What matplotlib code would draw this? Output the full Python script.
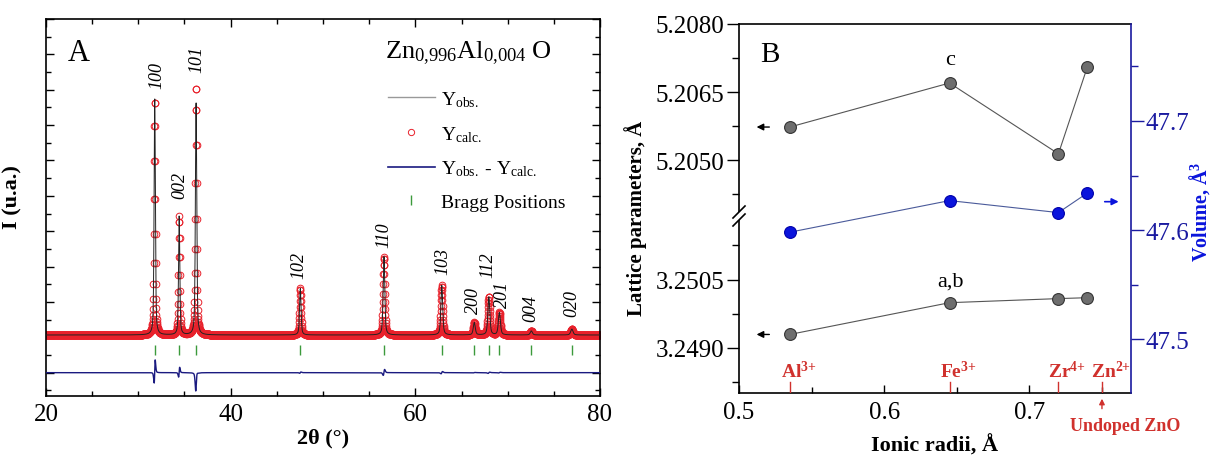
import numpy as np
import matplotlib
matplotlib.use('Agg')
import matplotlib.pyplot as plt
from matplotlib.ticker import MultipleLocator, NullFormatter, FormatStrFormatter
from matplotlib.lines import Line2D
from matplotlib.patches import Rectangle

plt.rcParams['font.family'] = ['Liberation Serif', 'DejaVu Serif']
plt.rcParams['mathtext.fontset'] = 'custom'
plt.rcParams['mathtext.rm'] = 'Liberation Serif'
plt.rcParams['mathtext.it'] = 'Liberation Serif:italic'
plt.rcParams['mathtext.bf'] = 'Liberation Serif:bold'

# ---------------- Rietveld refinement, Zn0.996Al0.004O ----------------
hkl = ['100', '002', '101', '102', '110', '103', '200', '112', '201', '004', '020']
bragg_pos = [31.77, 34.42, 36.25, 47.54, 56.60, 62.86, 66.38, 67.96, 69.10, 72.56, 76.95]
obs_pos = [31.776, 34.425, 36.253, 47.542, 56.606, 62.864, 66.383, 67.963, 69.103, 72.562, 76.952]
obs_top = [7750, 4430, 7660, 2380, 3290, 2470, 1415, 2140, 1700, 1180, 1230]
calc_top = [7700, 4410, 8100, 2380, 3280, 2470, 1415, 2145, 1700, 1180, 1230]
fwhm = [0.16, 0.16, 0.17, 0.19, 0.21, 0.23, 0.25, 0.25, 0.26, 0.27, 0.30]
background = 1065
bragg_level = 640
label_x = [32.0, 34.5, 36.3, 47.4, 56.6, 63.0, 66.3, 67.9, 69.4, 72.5, 76.9]
label_y = [8440, 5330, 8870, 3065, 3915, 3160, 2060, 3070, 2240, 1840, 1980]

# ---------------- lattice parameters vs dopant ionic radius ----------------
radii = [0.535, 0.645, 0.72, 0.74]
c_param = [5.20573, 5.20670, 5.20514, 5.20706]
a_param = [3.24929, 3.24999, 3.25008, 3.25010]
volume = [47.598, 47.627, 47.616, 47.634]
ion_x = [0.535, 0.645, 0.72, 0.75]
ion_labels = ['Al$^{\\mathbf{3{+}}}$', 'Fe$^{\\mathbf{3{+}}}$',
              'Zr$^{\\mathbf{4{+}}}$', 'Zn$^{\\mathbf{2{+}}}$']


def pseudo_voigt(x, x0, h, w, eta=0.5):
    g = np.exp(-4 * np.log(2) * ((x - x0) / w) ** 2)
    l = 1.0 / (1 + 4 * ((x - x0) / w) ** 2)
    return h * (eta * l + (1 - eta) * g)


tt = np.arange(20, 80.0001, 0.02)
y_obs = np.full_like(tt, background, dtype=float)
y_calc = np.full_like(tt, background, dtype=float)
for p_o, p_c, h_o, h_c, w in zip(obs_pos, bragg_pos, obs_top, calc_top, fwhm):
    y_obs += pseudo_voigt(tt, p_o, h_o - background, w)
    y_calc += pseudo_voigt(tt, p_c, h_c - background, w)

red = '#e8212b'
navy = '#1a1a80'
green = '#3c9a3c'

fig = plt.figure(figsize=(12.1, 4.64), dpi=100)


def fx(px):
    return px / 1210.0


def fy(py):
    return (464.0 - py) / 464.0


# ---------------- panel A ----------------
axA = fig.add_axes([fx(46), fy(397), fx(554), 377 / 464.0])
axA.plot(tt, y_calc, 'o', mfc='none', mec=red, ms=4.8, mew=0.7, zorder=2)
axA.plot(tt, y_obs, '-', color='#222222', lw=0.7, zorder=3)
axA.plot(tt, y_obs - y_calc, '-', color=navy, lw=1.0, zorder=3)
axA.plot(bragg_pos, [bragg_level] * len(bragg_pos), '|', color=green, ms=7, mew=1.0)
for lx, ly, lab in zip(label_x, label_y, hkl):
    axA.text(lx, ly, lab, rotation=90, ha='center', va='center', style='italic', fontsize=13)

axA.set_xlim(20, 80)
axA.set_ylim(-660, 10000)
axA.xaxis.set_major_locator(MultipleLocator(20))
axA.xaxis.set_minor_locator(MultipleLocator(5))
axA.yaxis.set_major_locator(MultipleLocator(1000))
axA.yaxis.set_minor_locator(MultipleLocator(500))
axA.yaxis.set_major_formatter(NullFormatter())
axA.tick_params(which='both', direction='in', top=True, right=True, labelsize=18)
axA.tick_params(which='major', length=6, width=1)
axA.tick_params(which='minor', length=3.5, width=1)
axA.tick_params(axis='x', pad=5)
for s in axA.spines.values():
    s.set_linewidth(1.2)
axA.set_xlabel('2θ (°)', fontsize=16, fontweight='bold', labelpad=2)
axA.set_ylabel('I (u.a.)', fontsize=16, fontweight='bold')
axA.yaxis.set_label_coords(-0.042, 0.53)
axA.text(0.06, 0.912, 'A', transform=axA.transAxes, fontsize=22, ha='center', va='center')
axA.text(0.612, 0.912, 'Zn$_{0{,}996}$Al$_{0{,}004}$ O', transform=axA.transAxes,
         fontsize=19, ha='left', va='center')

handles = [
    Line2D([], [], color='#999999', lw=1.0),
    Line2D([], [], ls='none', marker='o', mfc='none', mec=red, ms=4.5, mew=0.7),
    Line2D([], [], color=navy, lw=1.2),
    Line2D([], [], ls='none', marker='|', color=green, ms=7, mew=1.0),
]
labels = ['Y$_{\\mathrm{obs.}}$', 'Y$_{\\mathrm{calc.}}$',
          'Y$_{\\mathrm{obs.}}$ - Y$_{\\mathrm{calc.}}$', 'Bragg Positions']
axA.legend(handles, labels, loc='upper left', bbox_to_anchor=(0.600, 0.84), frameon=False,
           fontsize=14, handlelength=2.4, handletextpad=0.3, labelspacing=0.78, borderpad=0)

# ---------------- panel B ----------------
L, R = 739, 1131
ax_up = fig.add_axes([fx(L), fy(217), fx(R - L), 192 / 464.0])
ax_lo = fig.add_axes([fx(L), fy(394), fx(R - L), 177 / 464.0], sharex=ax_up)
ax_v = fig.add_axes([fx(L), fy(394), fx(R - L), 369 / 464.0], sharex=ax_lo)
ax_v.patch.set_visible(False)

gray_kw = dict(color='#555555', lw=0.8, marker='o', ms=8.5, mfc='#6e6e6e', mec='#333333', mew=0.8)
ax_up.plot(radii, c_param, **gray_kw)
ax_lo.plot(radii, a_param, **gray_kw)
ax_v.plot(radii, volume, color='#4a5a9a', lw=0.8, marker='o', ms=8.5, mfc='#0a14dc', mec='#0000aa', mew=0.8)

ax_up.set_ylim(5.20377, 5.2080)
ax_lo.set_ylim(3.2480, 3.2519)
ax_v.set_ylim(47.4506, 47.7889)
ax_lo.set_xlim(0.5, 0.77)

for ax in (ax_up, ax_lo):
    ax.yaxis.set_major_locator(MultipleLocator(0.0015))
    ax.yaxis.set_minor_locator(MultipleLocator(0.00075))
    ax.yaxis.set_major_formatter(FormatStrFormatter('%.4f'))
    ax.tick_params(axis='y', which='both', direction='out', labelsize=18, width=1, pad=1.5)
    ax.tick_params(axis='y', which='major', length=9)
    ax.tick_params(axis='y', which='minor', length=5)
    ax.spines['right'].set_visible(False)
    for s in ax.spines.values():
        s.set_linewidth(1.2)
ax_up.spines['bottom'].set_visible(False)
ax_lo.spines['top'].set_visible(False)
ax_up.tick_params(axis='x', which='both', bottom=False, top=False, labelbottom=False)

ax_lo.xaxis.set_major_locator(MultipleLocator(0.1))
ax_lo.xaxis.set_minor_locator(MultipleLocator(0.05))
ax_lo.xaxis.set_major_formatter(FormatStrFormatter('%.1f'))
ax_lo.tick_params(axis='x', which='both', direction='in', labelsize=18, width=1, pad=6)
ax_lo.tick_params(axis='x', which='major', length=6)
ax_lo.tick_params(axis='x', which='minor', length=4)
ax_lo.set_xlabel('Ionic radii, Å', fontsize=16, fontweight='bold', labelpad=8)

blue_axis = '#1a1aa0'
for side in ('left', 'top', 'bottom'):
    ax_v.spines[side].set_visible(False)
ax_v.spines['right'].set_color(blue_axis)
ax_v.spines['right'].set_linewidth(1.2)
ax_v.yaxis.tick_right()
ax_v.yaxis.set_major_locator(MultipleLocator(0.1))
ax_v.yaxis.set_minor_locator(MultipleLocator(0.05))
ax_v.yaxis.set_major_formatter(FormatStrFormatter('%.1f'))
ax_v.tick_params(axis='y', which='both', direction='out', colors=blue_axis, labelsize=18,
                 width=1, pad=1.5)
ax_v.tick_params(axis='y', which='major', length=9)
ax_v.tick_params(axis='y', which='minor', length=5)
ax_v.tick_params(axis='x', which='both', bottom=False, top=False, labelbottom=False)

# direction arrows
arrow_k = dict(arrowstyle='-|>', color='black', lw=1.0, mutation_scale=10)
ax_up.annotate('', xy=(0.5102, c_param[0]), xytext=(0.5228, c_param[0]), arrowprops=arrow_k)
ax_lo.annotate('', xy=(0.5102, a_param[0]), xytext=(0.5228, a_param[0]), arrowprops=arrow_k)
ax_v.annotate('', xy=(0.7634, 47.626), xytext=(0.7500, 47.626),
              arrowprops=dict(arrowstyle='-|>', color='#0a14dc', lw=1.2, mutation_scale=10))

ax_up.text(0.6455, 5.20721, 'c', fontsize=16, ha='center', va='center')
ax_lo.text(0.6455, 3.25046, 'a,b', fontsize=16, ha='center', va='center')
ax_up.text(0.521, 5.20734, 'B', fontsize=21, ha='center', va='center')

# dopant ion markers along the radius axis
ion_red = '#d0312d'
xtr = ax_v.get_xaxis_transform()
for xi, lab in zip(ion_x, ion_labels):
    ax_v.plot([xi, xi], [0, 0.03], color=ion_red, lw=1.0, transform=xtr)
    ax_v.text(xi + 0.006, 0.062, lab, transform=xtr, color=ion_red, fontsize=14,
              fontweight='bold', ha='center', va='center')
ax_v.annotate('', xy=(0.75, -0.008), xycoords=xtr, xytext=(0.75, -0.05), textcoords=xtr,
              arrowprops=dict(arrowstyle='-|>', color=ion_red, lw=1.0, mutation_scale=8),
              annotation_clip=False)
ax_v.text(0.766, -0.089, 'Undoped ZnO', transform=xtr, color=ion_red, fontsize=13,
          fontweight='bold', ha='center', va='center', clip_on=False)

fig.text(fx(636), fy(218), 'Lattice parameters, Å', rotation=90, fontsize=15,
         fontweight='bold', ha='center', va='center')
fig.text(fx(1200), fy(212), 'Volume, Å$^{\\mathbf{3}}$', rotation=90, fontsize=14.5,
         fontweight='bold', color='#0a14dc', ha='center', va='center')

# axis break on the lattice-parameter scale
fig.add_artist(Rectangle((fx(L - 3), fy(221)), fx(6), 8 / 464.0, transform=fig.transFigure,
                         facecolor='white', edgecolor='none', zorder=5))
for yc in (213, 221):
    fig.add_artist(Line2D([fx(L - 6), fx(L + 6)], [fy(yc + 6), fy(yc - 6)],
                          transform=fig.transFigure, color='black', lw=1.2, zorder=6))

fig.savefig('out.png', dpi=100)
